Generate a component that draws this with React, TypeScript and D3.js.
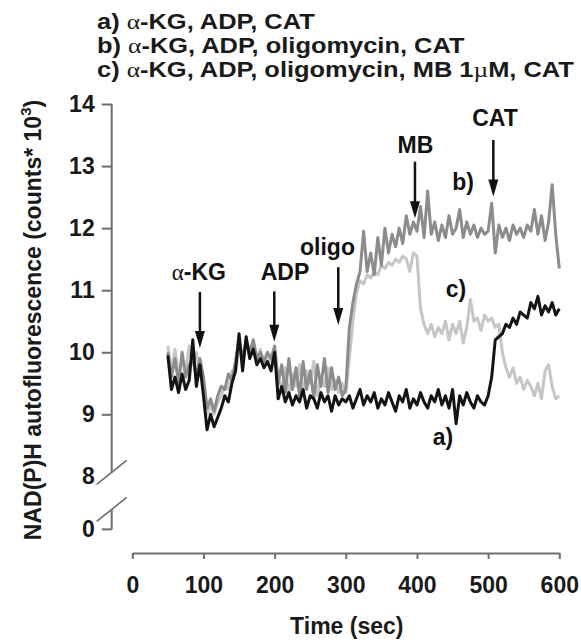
import React, { useRef, useEffect } from "react";
import * as d3 from "d3";

// sampling times (sec)
const times = [
  50, 55, 60, 65, 70, 75, 80, 85, 90, 95,
  100, 105, 110, 115, 120, 125, 130, 135, 140, 145,
  150, 155, 160, 165, 170, 175, 180, 185, 190, 195,
  200, 205, 210, 215, 220, 225, 230, 235, 240, 245,
  250, 255, 260, 265, 270, 275, 280, 285, 290, 295,
  300, 305, 310, 315, 320, 325, 330, 335, 340, 345,
  350, 355, 360, 365, 370, 375, 380, 385, 390, 395,
  400, 405, 410, 415, 420, 425, 430, 435, 440, 445,
  450, 455, 460, 465, 470, 475, 480, 485, 490, 495,
  500, 505, 510, 515, 520, 525, 530, 535, 540, 545,
  550, 555, 560, 565, 570, 575, 580, 585, 590, 595,
  600,
];

// a) α-KG, ADP, CAT  (black)
const seriesA = [
  9.95, 9.4, 9.6, 9.35, 9.65, 9.4, 9.55, 10.2, 9.45, 9.8,
  9.3, 8.75, 9.0, 8.8, 8.95, 9.1, 9.3, 9.2, 9.5, 9.7,
  10.3, 9.7, 10.25, 9.9, 10.05, 9.8, 9.9, 9.75, 9.85, 9.7,
  10.0, 9.25, 9.45, 9.2, 9.35, 9.15, 9.3, 9.2, 9.4, 9.1,
  9.3, 9.25, 9.1, 9.35, 9.2, 9.3, 9.05, 9.3, 9.15, 9.25,
  9.2, 9.3, 9.1, 9.25, 9.4, 9.15, 9.3, 9.2, 9.35, 9.1,
  9.25, 9.15, 9.35, 9.2, 9.05, 9.3, 9.2, 9.4, 9.1, 9.25,
  9.15, 9.35, 9.2, 9.1, 9.3, 9.2, 9.4, 9.15, 9.3, 9.1,
  9.4, 8.85, 9.3, 9.15, 9.35, 9.2, 9.1, 9.3, 9.2, 9.15,
  9.3, 9.6, 10.2, 10.25, 10.3, 10.45, 10.4, 10.55, 10.45, 10.65,
  10.6, 10.55, 10.8, 10.7, 10.9, 10.6, 10.75, 10.65, 10.8, 10.6,
  10.7,
];

// b) α-KG, ADP, oligomycin, CAT  (mid grey)
const seriesB = [
  10.0, 9.6, 9.9, 9.5, 10.0, 9.6, 9.8, 9.9, 9.6, 9.9,
  9.6, 9.1, 9.25, 9.05, 9.3, 9.45, 9.4, 9.65, 9.55, 9.85,
  10.2, 9.9, 10.2, 10.0, 10.2, 9.9, 10.0, 9.85, 10.0, 9.9,
  10.1, 9.5, 9.8, 9.35, 9.9, 9.4, 9.75, 9.3, 9.85, 9.4,
  9.7, 9.25, 9.8, 9.45, 9.9, 9.35, 9.75, 9.4, 9.6, 9.3,
  9.4, 10.4, 10.8, 11.1, 11.3, 11.95, 11.3, 11.6, 11.25, 11.85,
  11.4, 12.0, 11.6, 11.9, 11.7, 12.0, 11.75, 12.2, 11.9, 12.1,
  11.95, 12.35, 11.85, 12.6, 11.9, 12.1, 11.8, 12.05, 11.85, 12.2,
  11.9, 12.0, 12.3, 11.85, 12.1, 11.9, 12.05, 11.85, 12.0, 11.9,
  11.95, 12.4, 11.6, 12.05, 11.85, 12.0, 11.8, 12.05, 11.9, 12.0,
  11.85, 12.05, 11.95, 12.3, 11.9, 12.2, 11.8, 12.1, 12.7, 11.9,
  11.35,
];

// c) α-KG, ADP, oligomycin, MB 1µM, CAT  (light grey)
const seriesC = [
  10.1, 9.7, 10.05, 9.6, 9.9, 9.7, 10.1, 9.8, 10.0, 9.7,
  9.5, 9.0, 9.15, 9.0, 9.2, 9.3, 9.45, 9.4, 9.7, 9.65,
  10.1, 9.85, 10.15, 9.95, 10.1, 9.9, 10.05, 9.8, 9.95, 9.85,
  10.05, 9.6, 9.4, 9.75, 9.3, 9.65, 9.45, 9.8, 9.35, 9.7,
  9.5, 9.85, 9.3, 9.6, 9.45, 9.75, 9.4, 9.55, 9.35, 9.5,
  9.35, 9.9, 10.5, 10.95, 11.15, 11.1, 11.25, 11.2, 11.3, 11.25,
  11.4, 11.35, 11.45, 11.4, 11.5, 11.45, 11.55, 11.5, 11.3, 11.6,
  11.55, 10.7, 10.45, 10.3, 10.45, 10.25, 10.4, 10.3, 10.5, 10.2,
  10.45, 10.3, 10.5, 10.15, 10.4, 10.85, 10.5, 10.55, 10.35, 10.6,
  10.5, 10.55, 10.4, 10.45, 10.0, 9.75, 9.6, 9.75, 9.5, 9.6,
  9.4, 9.55, 9.45, 9.3, 9.5, 9.25, 9.7, 9.8, 9.45, 9.25,
  9.3,
];

const yTicks = [9, 10, 11, 12, 13, 14];
const xTicks = [0, 100, 200, 300, 400, 500, 600];

const legendLines = [
  "a) α-KG, ADP, CAT",
  "b) α-KG, ADP, oligomycin, CAT",
  "c) α-KG, ADP, oligomycin, MB 1µM, CAT",
];

// additions marked by arrows
const arrowLabels = ["α-KG", "ADP", "oligo", "MB", "CAT"];
const arrowTimes = [95, 199.5, 289.4, 397.2, 507.3];
const arrowTips = [10.07, 10.17, 10.44, 12.16, 12.51];
const arrowTails = [10.97, 10.98, 11.37, 13.07, 13.42];
const arrowLabelTimes = [93.6, 214.5, 274.3, 397.9, 509.6];
const arrowLabelValues = [11.16, 11.16, 11.57, 13.21, 13.65];

// trace labels
const traceLabels = ["a)", "b)", "c)"];
const traceLabelTimes = [436.6, 464.7, 454.8];
const traceLabelValues = [8.51, 12.61, 10.89];

const FONT = "'Liberation Sans', Arial, Helvetica, sans-serif";
const GREEK = "'Liberation Serif', 'DejaVu Serif', serif";

// write text with greek letters in a serif face, like the original
const addRich = (sel, str) => {
  str.split(/([αµ])/).forEach((part) => {
    if (!part) return;
    const ts = sel.append("tspan").text(part);
    if (part === "α" || part === "µ") {
      ts.attr("font-family", GREEK).attr("font-weight", "normal");
    }
  });
};

const App = () => {
  const chartRef = useRef(null);

  useEffect(() => {
    const width = 581;
    const height = 643;

    d3.select(chartRef.current).selectAll("*").remove();

    const svg = d3
      .select(chartRef.current)
      .append("svg")
      .attr("width", width)
      .attr("height", height)
      .style("position", "absolute")
      .style("left", 0)
      .style("top", 0)
      .style("background", "#fff")
      .attr("font-family", FONT);

    const x = d3.scaleLinear().domain([0, 600]).range([132.3, 559.3]);
    const y = d3.scaleLinear().domain([8, 14]).range([476.4, 104]);
    const axisX = 111.7;
    const axisColor = "#6e6e6e";

    // legend (top) - the original type is a bit wider than plain Arial
    const legend = svg
      .append("g")
      .attr("transform", "translate(97,0) scale(1.2,1)")
      .attr("font-weight", "bold")
      .attr("fill", "#1a1a1a");
    legendLines.forEach((line, i) => {
      const t = legend
        .append("text")
        .attr("x", 0)
        .attr("y", 29.5 + i * 24)
        .attr("font-size", 21.2);
      addRich(t, line);
    });

    // y axis (upper part, 8..14)
    const yAxis = svg
      .append("g")
      .attr("transform", `translate(${axisX},0)`)
      .call(
        d3
          .axisLeft(y)
          .tickValues(yTicks)
          .tickFormat(d3.format("d"))
          .tickSize(10)
          .tickSizeOuter(0)
          .tickPadding(7)
      );
    yAxis.select(".domain").attr("d", `M0,${y(14)}V${y(8) - 4}`);
    yAxis.selectAll(".domain, .tick line").attr("stroke", axisColor).attr("stroke-width", 2);
    yAxis
      .selectAll(".tick text")
      .attr("font-size", 23)
      .attr("font-weight", "bold")
      .attr("font-family", FONT)
      .attr("fill", "#1a1a1a");

    // broken part of y axis: "8" label and lower segment with 0
    const brk = svg.append("g").attr("stroke", axisColor).attr("stroke-width", 2).attr("fill", "none");
    const zeroY = y(8) + 53;
    brk.append("line").attr("x1", axisX).attr("x2", axisX).attr("y1", zeroY - 20).attr("y2", zeroY);
    brk.append("line").attr("x1", axisX - 10).attr("x2", axisX).attr("y1", zeroY).attr("y2", zeroY);
    [y(8) - 4, zeroY - 20].forEach((cy) => {
      brk
        .append("line")
        .attr("x1", axisX - 15)
        .attr("y1", cy + 12)
        .attr("x2", axisX + 15)
        .attr("y2", cy - 12)
        .attr("stroke-width", 1.6);
    });
    const yLab = svg
      .append("g")
      .attr("font-size", 23)
      .attr("font-weight", "bold")
      .attr("fill", "#1a1a1a")
      .attr("text-anchor", "end");
    yLab.append("text").attr("x", axisX - 17).attr("y", y(8)).attr("dy", "0.32em").text("8");
    yLab.append("text").attr("x", axisX - 17).attr("y", zeroY).attr("dy", "0.32em").text("0");

    // x axis
    const xAxis = svg
      .append("g")
      .attr("transform", "translate(0,553)")
      .call(d3.axisBottom(x).tickValues(xTicks).tickSize(6).tickSizeOuter(0).tickPadding(18));
    xAxis.selectAll(".domain, .tick line").attr("stroke", axisColor).attr("stroke-width", 2);
    xAxis
      .selectAll(".tick text")
      .attr("font-size", 23)
      .attr("font-weight", "bold")
      .attr("font-family", FONT)
      .attr("fill", "#1a1a1a");

    // axis titles
    svg
      .append("text")
      .attr("x", x(300) + 1)
      .attr("y", 634)
      .attr("text-anchor", "middle")
      .attr("font-size", 23)
      .attr("font-weight", "bold")
      .attr("fill", "#1a1a1a")
      .text("Time (sec)");

    const yt = svg
      .append("text")
      .attr("transform", "translate(41,320) rotate(-90)")
      .attr("text-anchor", "middle")
      .attr("font-size", 23)
      .attr("font-weight", "bold")
      .attr("fill", "#1a1a1a");
    yt.append("tspan").text("NAD(P)H autofluorescence (counts* 10");
    yt.append("tspan").attr("font-size", 15).attr("dy", -10).text("3");
    yt.append("tspan").attr("dy", 10).text(")");

    // traces
    const line = (vals) =>
      d3
        .line()
        .x((d, i) => x(times[i]))
        .y((d) => y(d))(vals);

    const traces = [
      { vals: seriesC, color: "#c6c6c6" },
      { vals: seriesB, color: "#8c8c8c" },
      { vals: seriesA, color: "#141414" },
    ];
    traces.forEach((tr) => {
      svg
        .append("path")
        .attr("d", line(tr.vals))
        .attr("fill", "none")
        .attr("stroke", tr.color)
        .attr("stroke-width", 3)
        .attr("stroke-linejoin", "round");
    });

    // arrows
    const arrows = svg.append("g");
    arrowLabels.forEach((lab, i) => {
      const ax = x(arrowTimes[i]);
      const tip = y(arrowTips[i]);
      const tail = y(arrowTails[i]);
      arrows
        .append("line")
        .attr("x1", ax)
        .attr("x2", ax)
        .attr("y1", tail)
        .attr("y2", tip - 10)
        .attr("stroke", "#111")
        .attr("stroke-width", 2.5);
      arrows
        .append("path")
        .attr("d", `M${ax},${tip}L${ax - 5},${tip - 17}L${ax + 5},${tip - 17}Z`)
        .attr("fill", "#111");
      const t = arrows
        .append("text")
        .attr("x", x(arrowLabelTimes[i]))
        .attr("y", y(arrowLabelValues[i]))
        .attr("text-anchor", "middle")
        .attr("font-size", 23)
        .attr("font-weight", "bold")
        .attr("fill", "#111");
      addRich(t, lab);
    });

    // trace labels
    traceLabels.forEach((lab, i) => {
      svg
        .append("text")
        .attr("x", x(traceLabelTimes[i]))
        .attr("y", y(traceLabelValues[i]))
        .attr("text-anchor", "middle")
        .attr("font-size", 23)
        .attr("font-weight", "bold")
        .attr("fill", "#111")
        .text(lab);
    });
  }, []);

  return <div ref={chartRef}></div>;
};

export default App;
